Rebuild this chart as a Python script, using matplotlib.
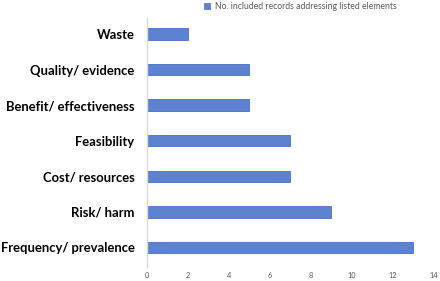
import matplotlib
matplotlib.use("Agg")
import matplotlib.pyplot as plt
from matplotlib.patches import Patch

categories = ["Frequency/ prevalence", "Risk/ harm", "Cost/ resources", "Feasibility",
              "Benefit/ effectiveness", "Quality/ evidence", "Waste"]
values = [13, 9, 7, 7, 5, 5, 2]
xticks = [0, 2, 4, 6, 8, 10, 12, 14]
series_name = "No. included records addressing listed elements"

plt.rcParams['font.family'] = ['Lato', 'DejaVu Sans']

fig = plt.figure(figsize=(4.4, 2.81), dpi=100)
ax = fig.add_axes([0.334, 0.05, 0.652, 0.886])

ax.barh(range(len(categories)), values, height=0.32, color='#5d82d1',
        edgecolor='#4a6fc0', linewidth=0.6)

ax.set_xlim(0, 14)
ax.set_ylim(-0.55, 6.45)
ax.set_yticks(range(len(categories)))
ax.set_yticklabels(categories, fontsize=9.4, fontweight='bold', color='black')
ax.set_xticks(xticks)
ax.set_xticklabels([str(t) for t in xticks], fontsize=5.3, color='#595959')
ax.tick_params(axis='both', length=0)
ax.tick_params(axis='x', pad=3.5)
ax.tick_params(axis='y', pad=9)

for s in ['top', 'right', 'bottom']:
    ax.spines[s].set_visible(False)
ax.spines['left'].set_color('#d9d9d9')
ax.spines['left'].set_linewidth(1.0)

handle = Patch(facecolor='#5d82d1', edgecolor='#4a6fc0', linewidth=0.5)
fig.legend([handle], [series_name], loc='upper left', bbox_to_anchor=(0.447, 1.02),
           frameon=False, fontsize=6.2, labelcolor='#595959',
           handlelength=0.7, handleheight=0.7, handletextpad=0.5)

fig.savefig("out.png", dpi=100)
